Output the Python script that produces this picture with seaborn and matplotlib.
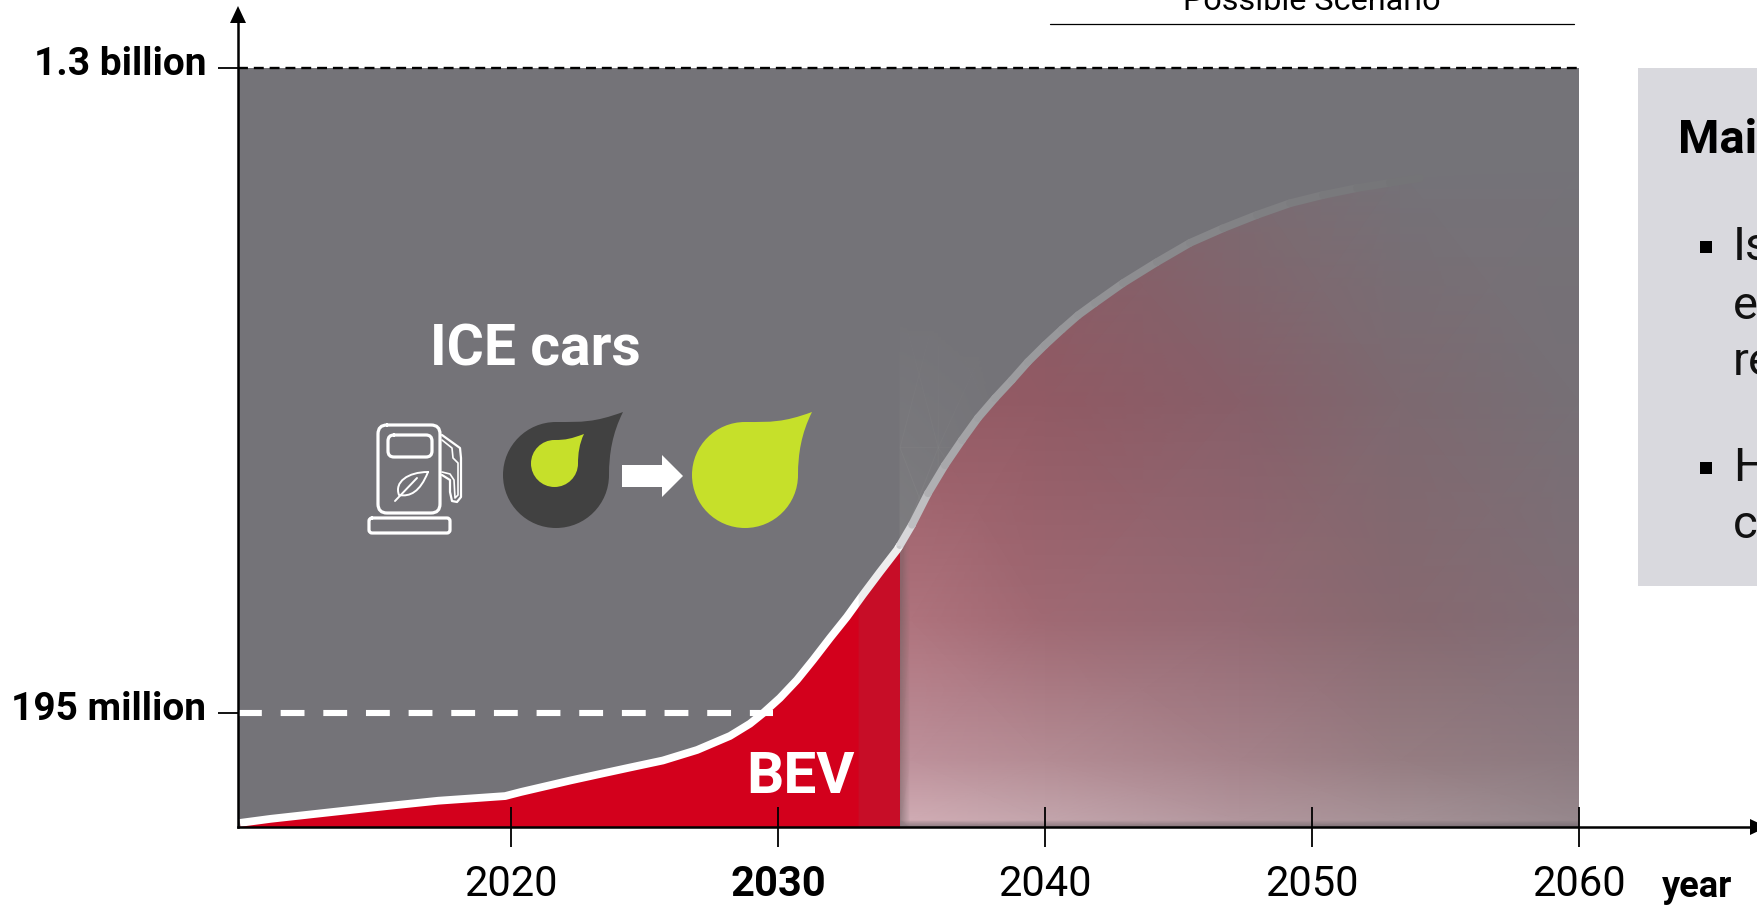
import numpy as np
import pandas as pd
import matplotlib
matplotlib.use('Agg')
import matplotlib.pyplot as plt
import seaborn as sns
from matplotlib.patches import PathPatch, Polygon, Rectangle
from matplotlib.path import Path
from matplotlib.transforms import Affine2D

# Values (millions of cars)
bev_years = [2009.85, 2011.0, 2014.76, 2017.27, 2019.78, 2020.37, 2022.25, 2023.35, 2024.46, 2025.69, 2026.97,
             2028.2, 2028.95, 2029.44, 2030.07, 2030.71, 2031.31, 2031.95, 2032.58, 2033.18, 2033.82,
             2034.46, 2034.57]
bev_values = [7, 14, 33, 45, 53, 60, 80, 91, 102, 114, 132,
              156, 177, 195, 221, 252, 286, 324, 360, 398, 437,
              475, 483]
scenario_years = [2034.57, 2035.02, 2035.62, 2036.25, 2036.89, 2037.49, 2038.13, 2038.76, 2039.36, 2040.0,
                  2040.64, 2041.24, 2041.87, 2042.92, 2044.19, 2045.43, 2046.67, 2047.94, 2049.18, 2050.41,
                  2051.69, 2052.92, 2054.04, 2056.0, 2060.0]
scenario_values = [483, 518, 572, 620, 663, 701, 735, 766, 797, 826,
                   853, 877, 898, 932, 968, 1001, 1026, 1049, 1069, 1083,
                   1095, 1104, 1112, 1118, 1122]
tick_years = [2020, 2030, 2040, 2050, 2060]
tick_year_labels = ['2020', '2030', '2040', '2050', '2060']
level_values = [195, 1300]
level_labels = ['195 million', '1.3 billion']

start_year = 2009.76
today_end = 2034.57
end_year = 2060

GREY = '#747378'
RED = '#d3001c'
GREEN = '#c6e02a'
DARK = '#414141'
PANEL = '#d9d9de'

sns.set_theme(style='white')
plt.rcParams['font.family'] = ['Roboto', 'DejaVu Sans']

fig = plt.figure(figsize=(17.57, 9.05), dpi=100)
ax = fig.add_axes([0, 0, 1, 1])
ax.set_facecolor('none')
ax.set_xlim(2020 - 511 / 26.7, 2020 + (1757 - 511) / 26.7)
ax.set_ylim(-78 * 1.7137, 827 * 1.7137)

# pixels of the picture, origin top left
px = Affine2D().scale(1, -1).translate(0, 905)

ax.fill_between([start_year, end_year], 0, 1300, color=GREY, lw=0, zorder=1)

# light haze above the curve, just after the cut
haze_x = [today_end, 2036.0, 2038.5]
haze_y = [480, 650, 900]
haze = np.array([[[.55, .55, .55, .42], [.55, .55, .55, .34], [.55, .55, .55, .1]],
                 [[.55, .55, .55, .24], [.55, .55, .55, .18], [.55, .55, .55, .04]],
                 [[.55, .55, .55, 0], [.55, .55, .55, 0], [.55, .55, .55, 0]]])
ax.pcolormesh(haze_x, haze_y, haze, shading='gouraud', zorder=1.1)

# BEV area up to the cut
ax.fill_between(bev_years, 0, bev_values, color=RED, lw=0, zorder=1.2)

# fading scenario area
grad_x = [today_end, 2034.95, 2040, 2047.3, 2053.3, end_year]
grad_y = [0, 12, 115, 355, 730, 1125]
grad = np.array([
    [(130, 115, 120), (135, 118, 124), (135, 118, 124), (130, 115, 120), (125, 112, 118), (120, 110, 116)],
    [(150, 125, 130), (208, 172, 180), (195, 165, 172), (178, 150, 157), (165, 145, 150), (150, 135, 140)],
    [(150, 115, 120), (190, 145, 155), (180, 140, 148), (165, 130, 138), (150, 125, 130), (140, 122, 128)],
    [(135, 100, 105), (175, 115, 125), (160, 105, 115), (148, 105, 115), (135, 105, 112), (128, 110, 118)],
    [(150, 100, 110), (150, 90, 100), (145, 90, 100), (135, 95, 105), (125, 105, 112), (118, 112, 118)],
    [(145, 90, 100), (145, 90, 100), (135, 92, 102), (122, 108, 114), (116, 114, 120), (116, 115, 120)],
]) / 255
mesh = ax.pcolormesh(grad_x, grad_y, grad, shading='gouraud', zorder=1.3)
clip = Polygon(list(zip(scenario_years, scenario_values)) + [(end_year, 0), (today_end, 0)],
               closed=True, transform=ax.transData, fc='none', ec='none')
ax.add_patch(clip)
mesh.set_clip_path(clip)

# curve
bev = pd.DataFrame({'year': bev_years, 'cars': bev_values})
sns.lineplot(data=bev, x='year', y='cars', color='white', linewidth=5.6, sort=False, errorbar=None,
             solid_capstyle='butt', solid_joinstyle='round', zorder=2, ax=ax)
line_grey = [215, 190, 175, 168, 163, 160, 158, 156, 154, 152, 150, 148, 145, 141, 137, 134, 130, 127, 124, 121, 118, 116]
for i, g in enumerate(line_grey):
    sns.lineplot(x=scenario_years[i:i + 2], y=scenario_values[i:i + 2], color=(g / 255, g / 255, (g + 3) / 255),
                 linewidth=5.6, solid_capstyle='round', errorbar=None, zorder=2, ax=ax)

# slightly darker band before the cut
ax.fill_between([2033.0, today_end], 0, [470, 483], color=GREY, alpha=0.12, lw=0, zorder=2.1)

ax.hlines(195, start_year, 2029.8, color='white', lw=4.4, linestyles=(0, (3.9, 3.08)), zorder=2.2)
ax.hlines(1300, start_year, end_year, color='black', lw=1.7, linestyles=(0, (4.2, 2.5)), zorder=2.2)

# axes
sns.despine(ax=ax)
ax.spines['left'].set_position(('data', start_year))
ax.spines['bottom'].set_position(('data', 0))
ax.spines['left'].set_bounds(0, 812 * 1.7137)
ax.spines['bottom'].set_bounds(start_year, ax.get_xlim()[1])
for s in ['left', 'bottom']:
    ax.spines[s].set_color('black')
    ax.spines[s].set_linewidth(1.8)
    ax.spines[s].set_zorder(3)

ax.set_axisbelow(False)
ax.set_xticks(tick_years, tick_year_labels)
ax.set_yticks(level_values, level_labels)
ax.set_xlabel('')
ax.set_ylabel('')
ax.tick_params(axis='x', bottom=True, direction='inout', length=29.5, width=1.3, color='black', pad=12,
               labelsize=30, labelcolor='black')
ax.tick_params(axis='y', left=True, direction='out', length=14.4, width=1.3, color='black', pad=8,
               labelsize=28, labelcolor='black')
for lab in ax.get_yticklabels():
    lab.set_fontweight('bold')
    lab.set_transform(lab.get_transform() + Affine2D().translate(0, 8))
ax.get_xticklabels()[1].set_fontweight('bold')

ax.add_patch(Polygon([(238, 6), (230, 23), (246, 23)], transform=px, fc='black', ec='none', clip_on=False, zorder=4))
ax.add_patch(Polygon([(1750, 819), (1767, 827), (1750, 835)], transform=px, fc='black', ec='none', clip_on=False, zorder=4))

# labels inside the chart
ax.text(430, 365, 'ICE cars', transform=px, weight='bold', size=41, color='white', zorder=5)
ax.text(746, 793, 'BEV', transform=px, weight='bold', size=42, color='white', zorder=5)
ax.text(1662, 897, 'year', transform=px, weight='bold', size=26, color='black')

# scenario header, cut by the picture edge
ax.text(1312, 10, 'Possible Scenario', transform=px, size=23.3, color='black', ha='center')
ax.plot([1050, 1574], [23.5, 23.5], transform=px, color='black', lw=0.9)

# side panel, cut by the picture edge
ax.add_patch(Rectangle((1638, 68), 130, 518, transform=px, fc=PANEL, ec='none', zorder=1))
ax.text(1678, 153, 'Mai', transform=px, weight='bold', size=34, color='black')
for y in [241, 462]:
    ax.add_patch(Rectangle((1700, y), 11.5, 11.5, transform=px, fc='black', ec='none', zorder=2))
for y, s in [(260, 'Is'), (319, 'e'), (375, 're'), (481, 'H'), (538, 'c')]:
    ax.text(1733, y, s, transform=px, size=34, color='#111111')


# icons
def drop(cx, cy, r, tip, color):
    k = 0.5523 * r
    verts = [(cx, cy - r),
             (cx + 0.5 * r, cy - r), (tip[0] - 0.55 * r, tip[1] + 0.2 * r), tip,
             (tip[0] - 0.2 * r, tip[1] + 0.4 * r), (cx + r, cy - 0.4 * r), (cx + r, cy),
             (cx + r, cy + k), (cx + k, cy + r), (cx, cy + r),
             (cx - k, cy + r), (cx - r, cy + k), (cx - r, cy),
             (cx - r, cy - k), (cx - k, cy - r), (cx, cy - r)]
    codes = [Path.MOVETO] + [Path.CURVE4] * 15
    ax.add_patch(PathPatch(Path(verts, codes), transform=px, fc=color, ec='none', zorder=3))


drop(556, 475, 53, (623, 412), DARK)
drop(554.5, 463.5, 23.5, (584, 434), GREEN)
drop(745, 475, 53, (812, 412), GREEN)
ax.add_patch(Polygon([(622, 465), (662, 465), (662, 455), (683, 476), (662, 497), (662, 487), (622, 487)],
                     transform=px, fc='white', ec='none', zorder=3))


def outline(verts, codes=None, lw=2.3):
    ax.add_patch(PathPatch(Path(verts, codes), transform=px, fc='none', ec='white', lw=lw, zorder=3,
                           capstyle='round', joinstyle='round'))


def rounded(x0, y0, x1, y1, r):
    verts = [(x0 + r, y0), (x1 - r, y0), (x1, y0), (x1, y0 + r), (x1, y1 - r), (x1, y1), (x1 - r, y1),
             (x0 + r, y1), (x0, y1), (x0, y1 - r), (x0, y0 + r), (x0, y0), (x0 + r, y0)]
    L, C = Path.LINETO, Path.CURVE3
    return verts, [Path.MOVETO, L, C, C, L, C, C, L, C, C, L, C, C]


outline(*rounded(378, 425, 440, 513, 9))
outline(*rounded(388, 435, 432, 457, 6))
outline(*rounded(369, 518, 450, 533, 3))
outline([(442, 435), (460, 448), (461, 458), (461, 497), (457, 502), (452, 501), (450, 492), (450, 480), (442, 475)], lw=1.6)
outline([(442, 440), (452, 448), (453, 458), (458, 463), (458, 495), (455, 498), (454, 480), (450, 474), (442, 472)], lw=1.2)
outline([(428, 472), (408, 472), (394, 482), (399, 495), (410, 497), (420, 492), (428, 472)],
        [Path.MOVETO, Path.CURVE4, Path.CURVE4, Path.CURVE4, Path.CURVE4, Path.CURVE4, Path.CURVE4], lw=1.4)
outline([(395, 501), (417, 478)], lw=1.4)

plt.savefig('out.png', dpi=100)
